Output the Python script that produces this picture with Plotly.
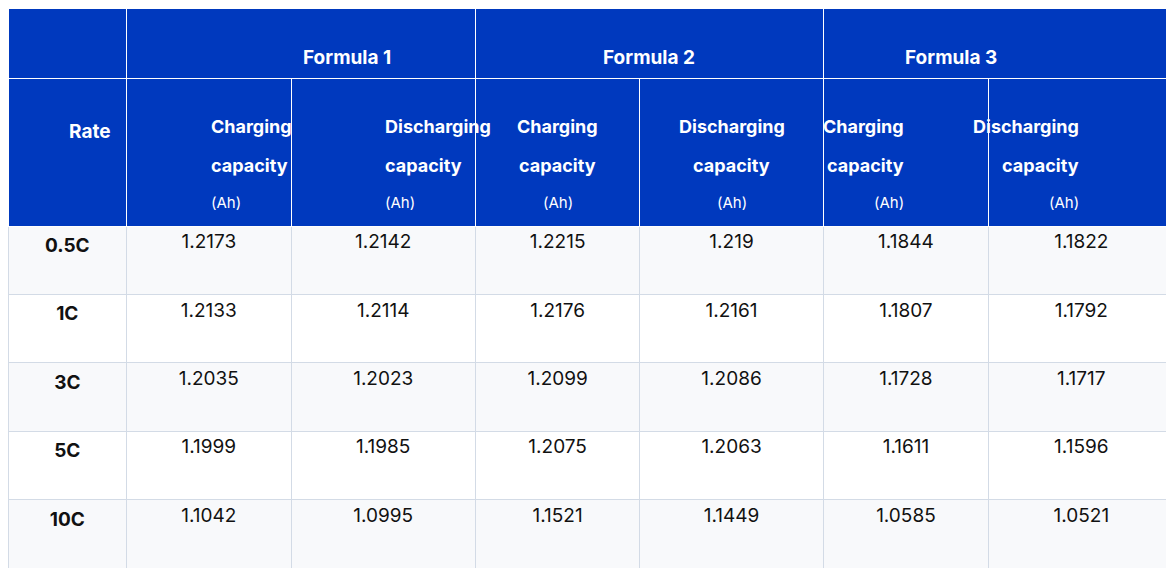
import plotly.graph_objects as go

rates = ["0.5C", "1C", "3C", "5C", "10C"]
formulas = ["Formula 1", "Formula 2", "Formula 3"]
sub_first = ["Charging", "Discharging"] * 3
f1_charge = ["1.2173", "1.2133", "1.2035", "1.1999", "1.1042"]
f1_discharge = ["1.2142", "1.2114", "1.2023", "1.1985", "1.0995"]
f2_charge = ["1.2215", "1.2176", "1.2099", "1.2075", "1.1521"]
f2_discharge = ["1.219", "1.2161", "1.2086", "1.2063", "1.1449"]
f3_charge = ["1.1844", "1.1807", "1.1728", "1.1611", "1.0585"]
f3_discharge = ["1.1822", "1.1792", "1.1717", "1.1596", "1.0521"]

BLUE = "#0039be"
GRID = "#d3dbe6"
FONT = "Inter"
W, H = 1166, 560
top_h = 70
sub_h = 148
row_h = (H - top_h - sub_h) / 5

widths = [119, 165, 185, 165, 184, 166, 186]
total = sum(widths)
edges = [sum(widths[:i]) for i in range(len(widths) + 1)]
centers = [(edges[i] + edges[i + 1]) / 2 / total for i in range(len(widths))]

fig = go.Figure()

# top merged header row
fig.add_trace(go.Table(
    domain=dict(x=[0, 1], y=[1 - top_h / H, 1]),
    columnwidth=[widths[0], widths[1] + widths[2], widths[3] + widths[4], widths[5] + widths[6]],
    header=dict(values=["", "", "", ""], fill_color=BLUE, line_color="white", height=top_h),
    cells=dict(values=[[], [], [], []], height=0),
))

row_fill = ["#f8f9fb", "white", "#f8f9fb", "white", "#f8f9fb"]
fig.add_trace(go.Table(
    domain=dict(x=[0, 1], y=[0, 1 - top_h / H]),
    columnwidth=widths,
    header=dict(values=[""] * 7, fill_color=BLUE, line_color="white", height=sub_h),
    cells=dict(
        values=[["<b>%s</b>" % r for r in rates], f1_charge, f1_discharge,
                f2_charge, f2_discharge, f3_charge, f3_discharge],
        fill_color=[row_fill] * 7, line_color=GRID, height=row_h,
        font=dict(family=FONT, size=19, color="#111111"), align="center",
    ),
))


def label(text, x, ypx, size=18, bold=True):
    fig.add_annotation(
        text="<b>%s</b>" % text if bold else text, x=x, y=1 - ypx / H,
        xref="paper", yref="paper", showarrow=False,
        font=dict(family=FONT, size=size, color="white"),
    )


label("Rate", centers[0], 110, 19)
for i, f in enumerate(formulas):
    x = (edges[1 + 2 * i] + edges[3 + 2 * i]) / 2 / total
    label(f, x, 36, 19)
for i, s in enumerate(sub_first):
    label(s, centers[i + 1], 106)
    label("capacity", centers[i + 1], 145)
    label("(Ah)", centers[i + 1], 183, 15, bold=False)

fig.update_layout(
    width=W, height=H, margin=dict(l=0, r=0, t=0, b=0),
    paper_bgcolor="white",
)
fig.write_html("out.html")
